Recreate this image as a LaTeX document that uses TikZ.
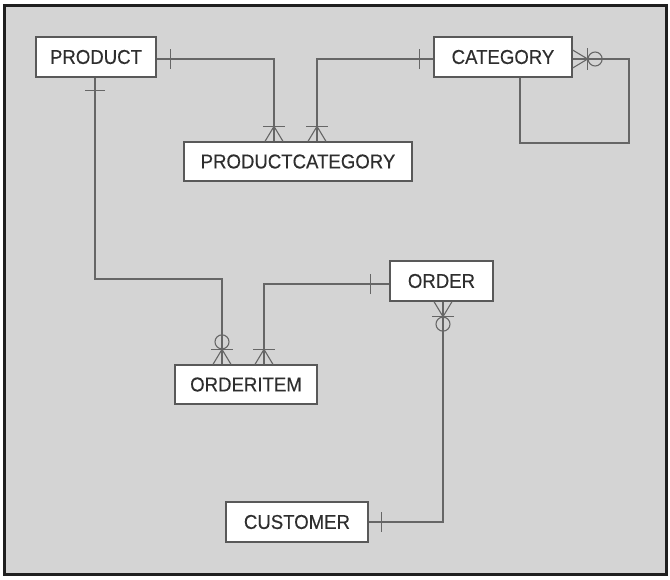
\documentclass[tikz,border=0pt]{standalone}
\usepackage{fontspec}
\setmainfont{Liberation Sans}[FakeStretch=0.93,FakeBold=0.3]
\begin{document}
\begin{tikzpicture}[x=1pt,y=-1pt,
  entity/.style={draw=black!65,line width=1.3pt,fill=white,inner sep=0pt,
    text=black!82,font=\fontsize{20}{22}\selectfont},
  conn/.style={draw=black!60,line width=1.1pt},
  pics/crow/.style={code={
    \draw[conn] (-9,0) -- (0,-15) -- (9,0);
    \draw[conn] (-11,-15) -- (11,-15);}},
  pics/crowzero/.style={code={
    \draw[conn] (-9,0) -- (0,-15) -- (9,0);
    \draw[conn] (-11,-15) -- (11,-15);
    \draw[conn] (0,-22.5) circle[radius=7];}},
  pics/onebar/.style={code={
    \draw[conn] (-10,-#1) -- (10,-#1);}},
]
\useasboundingbox (0,0) rectangle (670,579);
\fill[white] (0,0) rectangle (670,579);
\draw[fill=black!17,draw=black!88,line width=3pt] (4,5) rectangle (666,574);

\node[entity,minimum width=120,minimum height=40] (P)  at (96,57)   {PRODUCT};
\node[entity,minimum width=228,minimum height=39] (PC) at (298,161.5) {PRODUCTCATEGORY};
\node[entity,minimum width=138,minimum height=40] (C)  at (503,57)  {CATEGORY};
\node[entity,minimum width=103,minimum height=40] (O)  at (441.5,281) {ORDER};
\node[entity,minimum width=142,minimum height=39] (OI) at (246,384.5) {ORDERITEM};
\node[entity,minimum width=142,minimum height=40] (CU) at (297,522) {CUSTOMER};

% PRODUCT -- PRODUCTCATEGORY
\draw[conn] ([yshift=-2pt]P.east) -| ([xshift=-24pt]PC.north);
\pic[rotate=-90] at ([yshift=-2pt]P.east) {onebar=14};
\pic at ([xshift=-24pt]PC.north) {crow};
% CATEGORY -- PRODUCTCATEGORY
\draw[conn] ([yshift=-2pt]C.west) -| ([xshift=19pt]PC.north);
\pic[rotate=90] at ([yshift=-2pt]C.west) {onebar=14};
\pic at ([xshift=19pt]PC.north) {crow};
% CATEGORY self loop
\coordinate (c1) at ([xshift=17pt]C.south);
\coordinate (c2) at (629,143);
\draw[conn] ([yshift=-2pt]C.east) -- ([yshift=-2pt]C.east -| c2) -- (c2) -- (c2 -| c1) -- (c1);
\pic[rotate=-90] at ([yshift=-2pt]C.east) {crowzero};
% PRODUCT -- ORDERITEM
\coordinate (k1) at (95,279);
\draw[conn] ([xshift=-1pt]P.south) -- (k1) -| ([xshift=-24pt]OI.north);
\pic[rotate=180] at ([xshift=-1pt]P.south) {onebar=13};
\pic at ([xshift=-24pt]OI.north) {crowzero};
% ORDER -- ORDERITEM
\draw[conn] ([yshift=-3pt]O.west) -| ([xshift=18pt]OI.north);
\pic[rotate=90] at ([yshift=-3pt]O.west) {onebar=19};
\pic at ([xshift=18pt]OI.north) {crow};
% ORDER -- CUSTOMER
\draw[conn] ([xshift=1.5pt]O.south) |- (CU.east);
\pic[rotate=180] at ([xshift=1.5pt]O.south) {crowzero};
\pic[rotate=-90] at (CU.east) {onebar=13};
\end{tikzpicture}
\end{document}
